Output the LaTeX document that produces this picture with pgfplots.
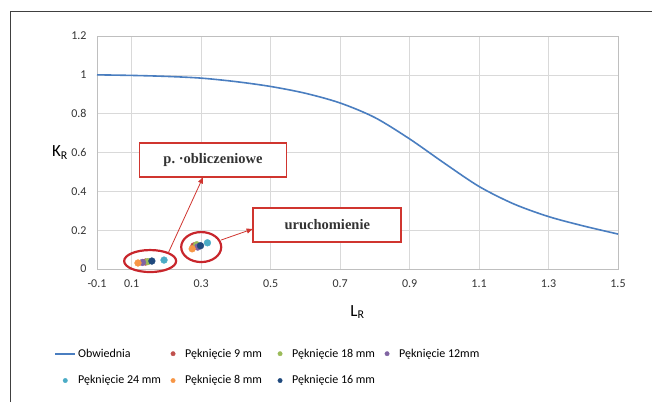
\documentclass[border=0pt]{standalone}
\usepackage{pgfplots}
\pgfplotsset{compat=1.18}
\usepackage{fontspec}
\setmainfont{Carlito}
\newfontfamily\boxfont{Liberation Serif}
\usetikzlibrary{arrows.meta}

\definecolor{curveblue}{HTML}{4A7EC0}
\definecolor{c9}{HTML}{C0504D}
\definecolor{c18}{HTML}{9BBB59}
\definecolor{c12}{HTML}{8064A2}
\definecolor{c24}{HTML}{4BACC6}
\definecolor{c8}{HTML}{F79646}
\definecolor{c16}{HTML}{1F497D}
\definecolor{ellred}{HTML}{C8262C}
\definecolor{boxred}{HTML}{D0352F}

\pgfplotsset{
  dotleg/.style={legend image code/.code={
    \path[draw=none, fill=none] (0pt,-4pt) rectangle (20pt,4pt);
    \draw[mark size=2.2pt] plot coordinates {(10pt,0pt)};}},
  lineleg/.style={legend image code/.code={
    \path[draw=none, fill=none] (0pt,-4pt) rectangle (20pt,4pt);
    \draw (0pt,0pt) -- (20pt,0pt);}},
}

\begin{document}
\begin{tikzpicture}[x=1pt,y=1pt]
\useasboundingbox (-97,-133) rectangle (555,269);
\draw[black!75, line width=0.8pt] (-87,-133) -- (-87,258) -- (555,258);
\begin{axis}[
  scale only axis,
  width=521pt, height=233pt,
  at={(0,0)}, anchor=south west,
  xmin=0, xmax=1.5, ymin=0, ymax=1.2,
  xtick={0,0.1,0.3,0.5,0.7,0.9,1.1,1.3,1.5},
  xticklabels={-0.1,0.1,0.3,0.5,0.7,0.9,1.1,1.3,1.5},
  ytick={0,0.2,0.4,0.6,0.8,1,1.2},
  yticklabels={0,0.2,0.4,0.6,0.8,1,1.2},
  grid=major,
  major grid style={black!15, line width=0.6pt},
  axis line style={black!25, line width=0.6pt},
  tick style={draw=none},
  ticklabel style={font=\fontsize{12}{14}\selectfont, text=black!80},
  xticklabel style={yshift=-7pt},
  yticklabel style={xshift=-7pt},
  xlabel={L\textsubscript{R}},
  ylabel={K\textsubscript{R}},
  every axis x label/.style={at={(axis description cs:0.5,-0.185)}, anchor=center, font=\fontsize{17}{20}\selectfont},
  every axis y label/.style={at={(axis description cs:-0.071,0.5)}, anchor=center, font=\fontsize{17}{20}\selectfont},
  clip=false,
  legend columns=4,
  legend cell align=left,
  legend style={draw=none, fill=none, at={(rel axis cs:-0.082,-0.333)}, anchor=north west,
    font=\fontsize{12}{14}\selectfont, row sep=13pt, column sep=0pt, inner sep=0pt},
]
\addplot[curveblue, line width=1.6pt, smooth, lineleg] coordinates {
  (0.0,1.000) (0.1,0.997) (0.2,0.992) (0.3,0.983) (0.4,0.965)
  (0.5,0.940) (0.6,0.905) (0.7,0.855) (0.8,0.780) (0.9,0.670)
  (1.0,0.545) (1.1,0.425) (1.2,0.335) (1.3,0.270) (1.4,0.222) (1.5,0.180)
};
\addlegendentry{\makebox[83pt][l]{Obwiednia}}
\addplot[only marks, mark=*, mark size=3.4pt, c9, mark options={draw=c9, fill=c9}, dotleg] coordinates {(0.140,0.036) (0.279,0.119)};
\addlegendentry{\makebox[83pt][l]{Pęknięcie 9 mm}}
\addplot[only marks, mark=*, mark size=3.4pt, c18, mark options={draw=c18, fill=c18}, dotleg] coordinates {(0.146,0.038) (0.287,0.125)};
\addlegendentry{\makebox[83pt][l]{Pęknięcie 18 mm}}
\addplot[only marks, mark=*, mark size=3.4pt, c12, mark options={draw=c12, fill=c12}, dotleg] coordinates {(0.131,0.034) (0.290,0.113)};
\addlegendentry{\makebox[83pt][l]{Pęknięcie 12mm}}
\addplot[only marks, mark=*, mark size=3.4pt, c24, mark options={draw=c24, fill=c24}, dotleg] coordinates {(0.193,0.046) (0.318,0.135)};
\addlegendentry{\makebox[83pt][l]{Pęknięcie 24 mm}}
\addplot[only marks, mark=*, mark size=3.4pt, c8, mark options={draw=c8, fill=c8}, dotleg] coordinates {(0.118,0.031) (0.274,0.104)};
\addlegendentry{\makebox[83pt][l]{Pęknięcie 8 mm}}
\addplot[only marks, mark=*, mark size=3.4pt, c16, mark options={draw=c16, fill=c16}, dotleg] coordinates {(0.158,0.041) (0.298,0.120)};
\addlegendentry{\makebox[83pt][l]{Pęknięcie 16 mm}}

% circles round the two groups
\draw[ellred, line width=2.2pt] (axis cs:0.153,0.041) ellipse [x radius=26pt, y radius=11pt];
\draw[ellred, line width=2.2pt] (axis cs:0.300,0.113) ellipse [x radius=20pt, y radius=15pt];

% callouts
\node[draw=boxred, line width=1.6pt, fill=white, minimum width=147pt, minimum height=34pt,
  inner sep=0pt, font=\boxfont\bfseries\fontsize{14.5}{16}\selectfont, text=black!80]
  (b1) at (axis cs:0.334,0.562) {p.\ ·obliczeniowe};
\node[draw=boxred, line width=1.6pt, fill=white, minimum width=148pt, minimum height=34pt,
  inner sep=0pt, font=\boxfont\bfseries\fontsize{14.5}{16}\selectfont, text=black!80]
  (b2) at (axis cs:0.663,0.227) {uruchomienie};
\draw[boxred, line width=0.8pt, -{Triangle[length=6pt,width=5pt]}] (axis cs:0.205,0.082) -- (axis cs:0.305,0.472);
\draw[boxred, line width=0.8pt, -{Triangle[length=6pt,width=5pt]}] (axis cs:0.357,0.149) -- (axis cs:0.448,0.206);
\end{axis}
\end{tikzpicture}
\end{document}
